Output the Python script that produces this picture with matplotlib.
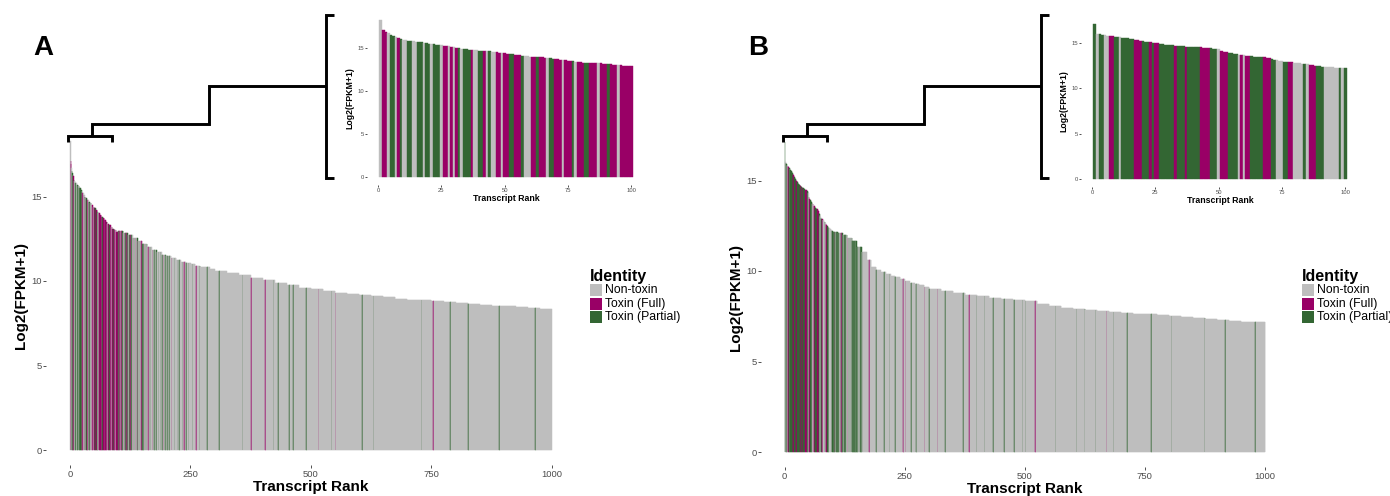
import numpy as np
import matplotlib
matplotlib.use("Agg")
import matplotlib.pyplot as plt
from matplotlib.patches import Rectangle

plt.rcParams['font.family'] = ['Liberation Sans', 'DejaVu Sans']

# ---------------- data ----------------
ranks = np.arange(1, 1001)

# Panel A : ranks 1-100
a_top100 = [18.3, 17.1, 16.9, 16.7, 16.5, 16.4, 16.3, 16.2, 16.0, 15.9,
            15.9, 15.8, 15.8, 15.8, 15.7, 15.7, 15.7, 15.6, 15.6, 15.5,
            15.5, 15.5, 15.4, 15.4, 15.3, 15.2, 15.2, 15.2, 15.1, 15.1,
            15.0, 15.0, 14.9, 14.9, 14.9, 14.8, 14.8, 14.8, 14.8, 14.7,
            14.7, 14.6, 14.6, 14.6, 14.5, 14.5, 14.5, 14.4, 14.4, 14.4,
            14.3, 14.3, 14.3, 14.2, 14.2, 14.2, 14.1, 14.1, 14.1, 14.0,
            14.0, 14.0, 13.9, 13.9, 13.9, 13.8, 13.8, 13.8, 13.7, 13.7,
            13.7, 13.6, 13.6, 13.6, 13.5, 13.5, 13.5, 13.4, 13.4, 13.4,
            13.3, 13.3, 13.3, 13.3, 13.2, 13.2, 13.2, 13.2, 13.1, 13.1,
            13.1, 13.1, 13.0, 13.0, 13.0, 13.0, 12.9, 12.9, 12.9, 12.9]
# ranks 101-300, one level per 10 ranks
a_levels_by10 = [12.95, 12.85, 12.7, 12.55, 12.35, 12.2, 12.0, 11.85, 11.7, 11.55,
                 11.45, 11.35, 11.25, 11.15, 11.05, 11.0, 10.9, 10.85, 10.8, 10.7]
# ranks 301-1000, one level per 25 ranks
a_levels_by25 = [10.6, 10.45, 10.35, 10.2, 10.05, 9.9, 9.75, 9.6, 9.5, 9.4,
                 9.3, 9.25, 9.2, 9.1, 9.05, 8.95, 8.9, 8.85, 8.8, 8.75,
                 8.7, 8.65, 8.6, 8.55, 8.5, 8.45, 8.4, 8.35]
a_full_ranks = [2, 3, 8, 26, 27, 29, 31, 37, 42, 47, 48, 50, 51, 54, 55, 56, 61, 62,
                64, 65, 66, 70, 71, 72, 74, 75, 76, 79, 80, 81, 84, 85, 86, 88, 89,
                90, 92, 93, 94, 96, 97, 98, 99, 100,
                103, 106, 107, 112, 118, 121, 126, 131, 137, 142, 149, 156, 163,
                173, 195, 212, 238, 263, 377, 406, 517, 552, 755]
a_partial_ranks = [5, 6, 9, 12, 13, 16, 17, 19, 20, 22, 23, 24, 32, 34, 35, 36, 40,
                   41, 44, 52, 53, 57, 63, 68, 69, 77, 82, 83, 91,
                   101, 104, 109, 110, 114, 116, 120, 124, 128, 129, 133, 135, 140,
                   144, 146, 151, 153, 158, 160, 166, 169, 176, 180, 185, 189, 192,
                   199, 203, 207, 218, 224, 228, 235, 242, 247, 256, 270, 286, 311,
                   359, 424, 433, 456, 464, 491, 544, 607, 631, 731, 790, 827, 892, 966]

# Panel B
b_top100 = [17.1, 16.0, 15.95, 15.9, 15.85, 15.8, 15.8, 15.75, 15.7, 15.7,
            15.65, 15.6, 15.55, 15.5, 15.45, 15.4, 15.35, 15.3, 15.25, 15.2,
            15.15, 15.1, 15.05, 15.0, 15.0, 14.95, 14.9, 14.85, 14.8, 14.8,
            14.75, 14.75, 14.7, 14.7, 14.65, 14.65, 14.6, 14.6, 14.6, 14.55,
            14.55, 14.5, 14.5, 14.45, 14.45, 14.4, 14.4, 14.35, 14.3, 14.3,
            14.1, 14.0, 13.95, 13.9, 13.85, 13.8, 13.75, 13.7, 13.7, 13.65,
            13.6, 13.6, 13.55, 13.5, 13.5, 13.45, 13.4, 13.4, 13.35, 13.3,
            13.2, 13.15, 13.1, 13.05, 13.0, 12.95, 12.9, 12.9, 12.85, 12.8,
            12.8, 12.75, 12.7, 12.7, 12.65, 12.6, 12.55, 12.5, 12.5, 12.45,
            12.4, 12.4, 12.35, 12.3, 12.3, 12.25, 12.25, 12.2, 12.2, 12.2]
b_levels_by10 = [12.15, 12.1, 12.0, 11.85, 11.65, 11.35, 11.05, 10.6, 10.2, 10.05,
                 9.95, 9.85, 9.75, 9.65, 9.55, 9.45, 9.35, 9.3, 9.2, 9.1]
b_levels_by25 = [9.0, 8.9, 8.8, 8.7, 8.6, 8.5, 8.45, 8.4, 8.35, 8.2,
                 8.05, 7.95, 7.9, 7.85, 7.8, 7.75, 7.7, 7.65, 7.6, 7.55,
                 7.5, 7.45, 7.4, 7.35, 7.3, 7.25, 7.2, 7.2]
b_full_ranks = [7, 8, 17, 18, 19, 23, 25, 26, 33, 37, 43, 44, 45, 46, 51, 52, 53,
                59, 61, 62, 68, 69, 70, 78, 79, 86, 87, 88,
                105, 118, 132, 177, 247, 253, 292, 319, 385, 522, 671]
b_partial_ranks = [1, 3, 4, 9, 10, 12, 13, 14, 15, 16, 20, 21, 22, 24, 27, 28, 29,
                   30, 31, 32, 34, 35, 36, 38, 39, 40, 41, 42, 47, 48, 49, 54, 55,
                   56, 57, 63, 64, 65, 66, 67, 71, 72, 76, 77, 84, 89, 90, 91, 98, 100,
                   101, 102, 104, 107, 108, 110, 112, 113, 115, 117, 120, 121, 123,
                   125, 127, 128, 130, 134, 136, 138, 140, 141, 143, 145, 147, 150,
                   152, 155, 158, 160, 163, 191, 208, 219, 231, 264, 274, 302, 335,
                   372, 401, 417, 435, 458, 479, 496, 503, 565, 609, 625, 648, 686,
                   714, 764, 807, 875, 918, 981]

identity_labels = ["Non-toxin", "Toxin (Full)", "Toxin (Partial)"]
identity_colors = ["#BEBEBE", "#990066", "#336633"]

W, H = 1390, 496


def series(top100, by10, by25):
    return np.concatenate([np.asarray(top100, float),
                           np.repeat(by10, 10), np.repeat(by25, 25)])


def colours(full, partial):
    c = np.array([identity_colors[0]] * len(ranks), dtype=object)
    c[np.asarray(full) - 1] = identity_colors[1]
    c[np.asarray(partial) - 1] = identity_colors[2]
    return list(c)


fig = plt.figure(figsize=(W / 100, H / 100), dpi=100)
fig.patch.set_facecolor("white")


def px_axes(x0, x1, ytop, ybot):
    return fig.add_axes([x0 / W, 1 - ybot / H, (x1 - x0) / W, (ybot - ytop) / H])


def style(ax, xt, fs, ticklen, xlab, ylab, lab_fs):
    for s in ax.spines.values():
        s.set_visible(False)
    ax.set_xticks(xt)
    ax.set_yticks([0, 5, 10, 15])
    ax.tick_params(axis="both", length=ticklen, width=0.6, color="#333333",
                   labelsize=fs, labelcolor="#4D4D4D", pad=1)
    ax.set_xlabel(xlab, fontsize=lab_fs, fontweight="bold", labelpad=1)
    ax.set_ylabel(ylab, fontsize=lab_fs, fontweight="bold", labelpad=2)


def draw_panel(vals, cols, main_box, inset_box):
    ymax = vals.max()
    ax = px_axes(*main_box)
    ax.bar(ranks, vals, width=1.0, color=cols, edgecolor=cols, linewidth=0.35)
    ax.set_xlim(-49.4, 1050.4)
    ax.set_ylim(-0.05 * ymax, 1.05 * ymax)
    style(ax, [0, 250, 500, 750, 1000], 6.8, 2.2, "Transcript Rank",
          "Log2(FPKM+1)", 11)
    ax.patch.set_visible(False)
    axi = px_axes(*inset_box)
    axi.bar(ranks[:100], vals[:100], width=1.0, color=cols[:100],
            edgecolor=cols[:100], linewidth=0.3)
    axi.set_xlim(-4.44, 105.44)
    axi.set_ylim(-0.05 * ymax, 1.05 * ymax)
    style(axi, [0, 25, 50, 75, 100], 4.2, 1.2, "Transcript Rank",
          "Log2(FPKM+1)", 6.3)
    axi.patch.set_visible(False)
    return ax, axi


va = series(a_top100, a_levels_by10, a_levels_by25)
vb = series(b_top100, b_levels_by10, b_levels_by25)

draw_panel(va, colours(a_full_ranks, a_partial_ranks),
           (46, 576, 450 - 1.05 * va.max() * 16.9, 450 + 0.05 * va.max() * 16.9),
           (367, 645, 177 - 1.05 * va.max() * 8.6, 177 + 0.05 * va.max() * 8.6))
draw_panel(vb, colours(b_full_ranks, b_partial_ranks),
           (761, 1289, 452 - 1.05 * vb.max() * 18.1, 452 + 0.05 * vb.max() * 18.1),
           (1081, 1359, 179 - 1.05 * vb.max() * 9.07, 179 + 0.05 * vb.max() * 9.07))

ov = fig.add_axes([0, 0, 1, 1])
ov.set_xlim(0, W)
ov.set_ylim(H, 0)
ov.axis("off")
ov.patch.set_visible(False)

lw = 2.1
for dx in (0, 715):
    kw = dict(color="black", lw=lw, solid_joinstyle="miter", solid_capstyle="butt")
    ov.plot([68 + dx, 68 + dx, 112 + dx, 112 + dx], [142, 136, 136, 142], **kw)
    ov.plot([92 + dx, 92 + dx, 209 + dx, 209 + dx, 326 + dx],
            [136, 124, 124, 86, 86], **kw)
    ov.plot([334 + dx, 326 + dx, 326 + dx, 334 + dx], [15, 15, 178, 178], **kw)

ov.text(43, 48, "A", fontsize=20, fontweight="bold", ha="center", va="center")
ov.text(758, 48, "B", fontsize=20, fontweight="bold", ha="center", va="center")

for lx in (590, 1302):
    ov.text(lx, 276, "Identity", fontsize=11.5, fontweight="bold",
            ha="left", va="center")
    for i, (lab, col) in enumerate(zip(identity_labels, identity_colors)):
        yc = 290 + i * 13.5
        ov.add_patch(Rectangle((lx, yc - 6), 12, 12, facecolor=col,
                               edgecolor="none"))
        ov.text(lx + 15, yc, lab, fontsize=8.8, ha="left", va="center")

fig.savefig("out.png", dpi=100, facecolor="white")
